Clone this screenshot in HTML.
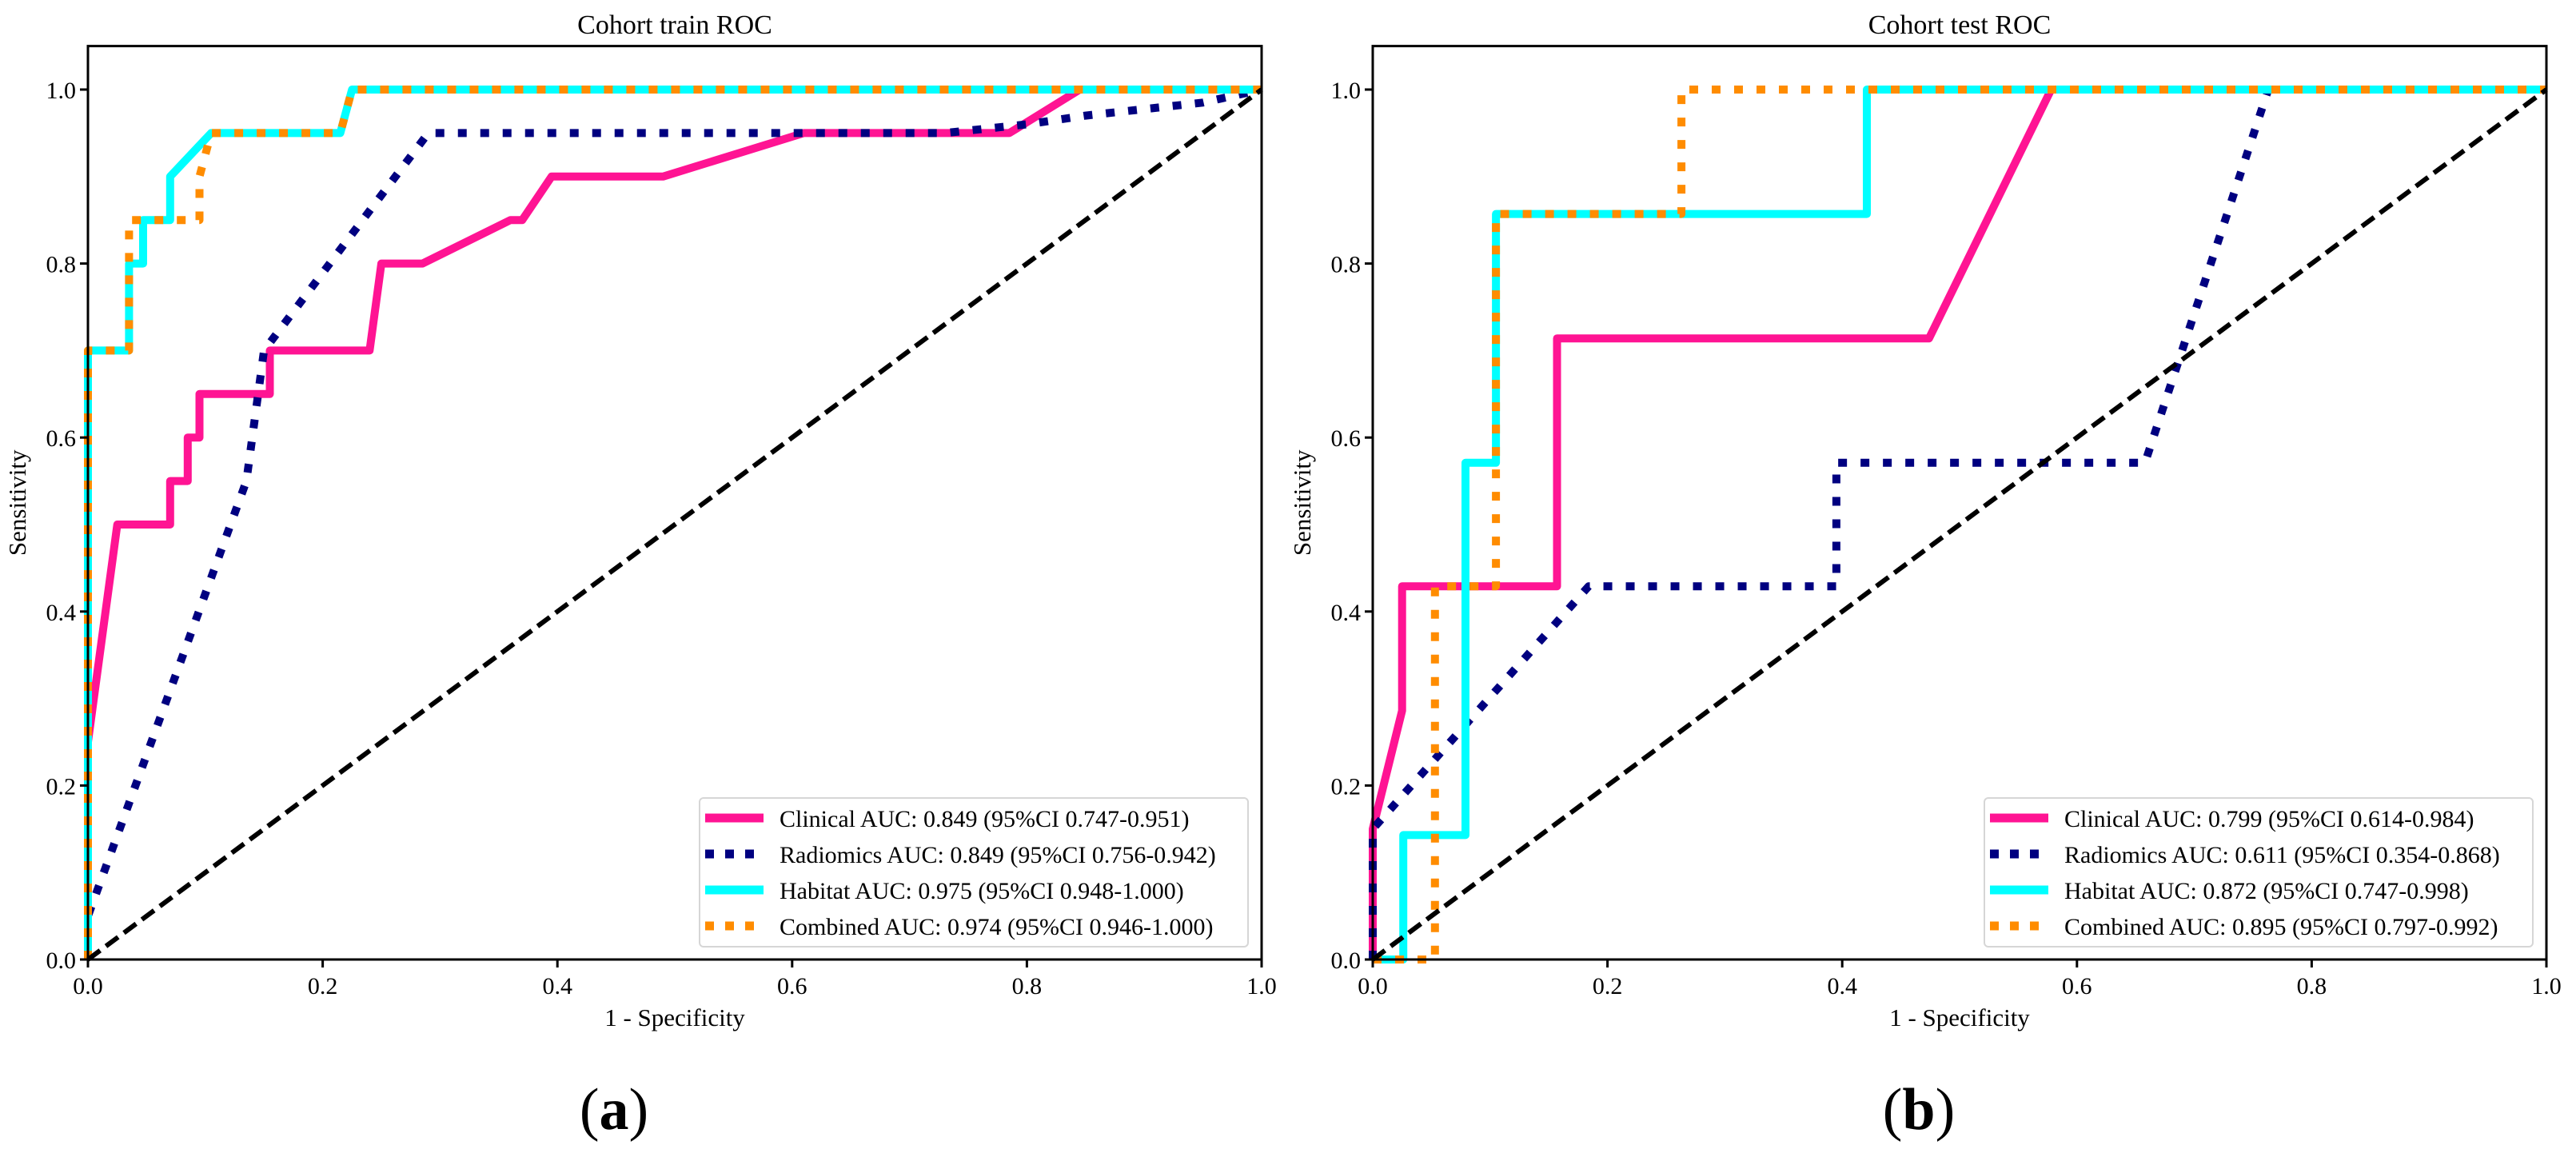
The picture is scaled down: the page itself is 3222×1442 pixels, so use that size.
<!DOCTYPE html>
<html><head><meta charset="utf-8"><style>
html,body{margin:0;padding:0;background:#fff;}
svg{display:block;font-family:"Liberation Serif",serif;}
</style></head><body>
<svg id="fig" width="3222" height="1442" viewBox="0 0 3222 1442" xmlns="http://www.w3.org/2000/svg"></svg>
<script>
// ---- data ----
const trainClinicalX = [0,0,0.025,0.07,0.07,0.085,0.085,0.095,0.095,0.155,0.155,0.24,0.25,0.285,0.36,0.37,0.395,0.49,0.61,0.785,0.845,1];
const trainClinicalY = [0,0.25,0.5,0.5,0.55,0.55,0.6,0.6,0.65,0.65,0.7,0.7,0.8,0.8,0.85,0.85,0.9,0.9,0.95,0.95,1,1];
const trainRadiomicsX = [0,0,0.135,0.15,0.29,0.73,0.80,0.85,0.95,1];
const trainRadiomicsY = [0,0.05,0.55,0.7,0.95,0.95,0.96,0.97,0.985,1];
const trainHabitatX = [0,0,0.035,0.035,0.047,0.047,0.07,0.07,0.105,0.215,0.225,1];
const trainHabitatY = [0,0.7,0.7,0.8,0.8,0.85,0.85,0.9,0.95,0.95,1,1];
const trainCombinedX = [0,0,0.035,0.035,0.095,0.095,0.105,0.215,0.225,1];
const trainCombinedY = [0,0.7,0.7,0.85,0.85,0.9,0.95,0.95,1,1];

const testClinicalX = [0,0,0.025,0.025,0.157,0.157,0.474,0.578,1];
const testClinicalY = [0,0.15,0.286,0.429,0.429,0.714,0.714,1,1];
const testRadiomicsX = [0,0,0.184,0.395,0.395,0.658,0.763,1];
const testRadiomicsY = [0,0.15,0.429,0.429,0.571,0.571,1,1];
const testHabitatX = [0,0.026,0.026,0.079,0.079,0.105,0.105,0.421,0.421,1];
const testHabitatY = [0,0,0.143,0.143,0.571,0.571,0.857,0.857,1,1];
const testCombinedX = [0,0.053,0.053,0.105,0.105,0.263,0.263,1];
const testCombinedY = [0,0,0.429,0.429,0.857,0.857,1,1];

const tickValues = [0,0.2,0.4,0.6,0.8,1.0];
const tickLabels = ["0.0","0.2","0.4","0.6","0.8","1.0"];
const trainLegend = ["Clinical AUC: 0.849 (95%CI 0.747-0.951)","Radiomics AUC: 0.849 (95%CI 0.756-0.942)","Habitat AUC: 0.975 (95%CI 0.948-1.000)","Combined AUC: 0.974 (95%CI 0.946-1.000)"];
const testLegend = ["Clinical AUC: 0.799 (95%CI 0.614-0.984)","Radiomics AUC: 0.611 (95%CI 0.354-0.868)","Habitat AUC: 0.872 (95%CI 0.747-0.998)","Combined AUC: 0.895 (95%CI 0.797-0.992)"];

const NS = "http://www.w3.org/2000/svg";
const svg = document.getElementById('fig');
function mk(tag, attrs, parent){
  const e = document.createElementNS(NS, tag);
  for (const k in attrs) e.setAttribute(k, attrs[k]);
  (parent||svg).appendChild(e);
  return e;
}
const styles = [
  {c:"#FF1493", d:null},
  {c:"#000080", d:"11 17"},
  {c:"#00FFFF", d:null},
  {c:"#FF8C00", d:"11 17"}
];
const names = ["clinical","radiomics","habitat","combined"];

function panel(x0, title, letter, labelX, series, legend, prefix){
  const W = 1468, y0 = 1200, H = 1088;
  const sx = v => x0 + v*W;
  const sy = v => y0 - v*H;
  const g = mk('g', {});
  
  
  series.forEach((s, i) => {
    const pts = s[0].map((x, j) => sx(x).toFixed(1)+','+sy(s[1][j]).toFixed(1)).join(' ');
    const a = {points: pts, fill:'none', stroke: styles[i].c, 'stroke-width': 10, 'stroke-linejoin':'round'};
    if (styles[i].d) a['stroke-dasharray'] = styles[i].d;
    const pl = mk('polyline', a, g);
    
    
  });
  const diag = mk('line', {x1:sx(0), y1:sy(0), x2:sx(1), y2:sy(1), stroke:'#000', 'stroke-width':6, 'stroke-dasharray':'19 9'}, g);
  
  
  const fr = mk('rect', {x:x0, y:y0-1.05*H, width:W, height:1.05*H, fill:'none', stroke:'#000', 'stroke-width':3}, g);
  
  
  tickValues.forEach((v, i) => {
    mk('line', {x1:sx(v), y1:y0, x2:sx(v), y2:y0+10, stroke:'#000', 'stroke-width':3}, g);
    const tx = mk('text', {x:sx(v), y:1243, 'font-size':30, 'text-anchor':'middle'}, g);
    tx.textContent = tickLabels[i];
    
    
    mk('line', {x1:x0-10, y1:sy(v), x2:x0, y2:sy(v), stroke:'#000', 'stroke-width':3}, g);
    const ty = mk('text', {x:x0-15, y:sy(v)+11, 'font-size':30, 'text-anchor':'end'}, g);
    ty.textContent = tickLabels[i];
    
    
  });
  const xl = mk('text', {x:x0+W/2, y:1283, 'font-size':31, 'text-anchor':'middle'}, g);
  xl.textContent = '1 - Specificity';
  
  
  const yl = mk('text', {x:0, y:0, 'font-size':31, 'text-anchor':'middle', transform:`translate(${x0-78},${y0-0.525*H}) rotate(-90)`}, g);
  yl.textContent = 'Sensitivity';
  
  
  const tt = mk('text', {x:x0+W/2, y:42, 'font-size':34, 'text-anchor':'middle'}, g);
  tt.textContent = title;
  
  
  const pl = mk('text', {x:labelX, y:1412, 'font-size':74, 'text-anchor':'middle'}, g);
  
  
  const t1 = mk('tspan', {}, pl); t1.textContent = '(';
  const t2 = mk('tspan', {'font-weight':'bold'}, pl); t2.textContent = letter;
  const t3 = mk('tspan', {}, pl); t3.textContent = ')';
  // legend
  const lx = x0 + 765, ly = 998;
  const lg = mk('g', {}, g);
  
  
  mk('rect', {x:lx, y:ly, width:686, height:186, rx:5, fill:'#fff', 'fill-opacity':0.85, stroke:'#d6d6d6', 'stroke-width':2}, lg);
  legend.forEach((t, i) => {
    const yy = ly + 25 + i*45;
    const a = {x1:lx+7, y1:yy, x2:lx+80, y2:yy, stroke:styles[i].c, 'stroke-width':11};
    if (styles[i].d) a['stroke-dasharray'] = '11 14';
    mk('line', a, lg);
    const te = mk('text', {x:lx+100, y:yy+11, 'font-size':30}, lg);
    te.textContent = t;
    
    
  });
}
panel(110, 'Cohort train ROC', 'a', 768,
  [[trainClinicalX,trainClinicalY],[trainRadiomicsX,trainRadiomicsY],[trainHabitatX,trainHabitatY],[trainCombinedX,trainCombinedY]],
  trainLegend, 'train');
panel(1717, 'Cohort test ROC', 'b', 2400,
  [[testClinicalX,testClinicalY],[testRadiomicsX,testRadiomicsY],[testHabitatX,testHabitatY],[testCombinedX,testCombinedY]],
  testLegend, 'test');
</script>
</body></html>
